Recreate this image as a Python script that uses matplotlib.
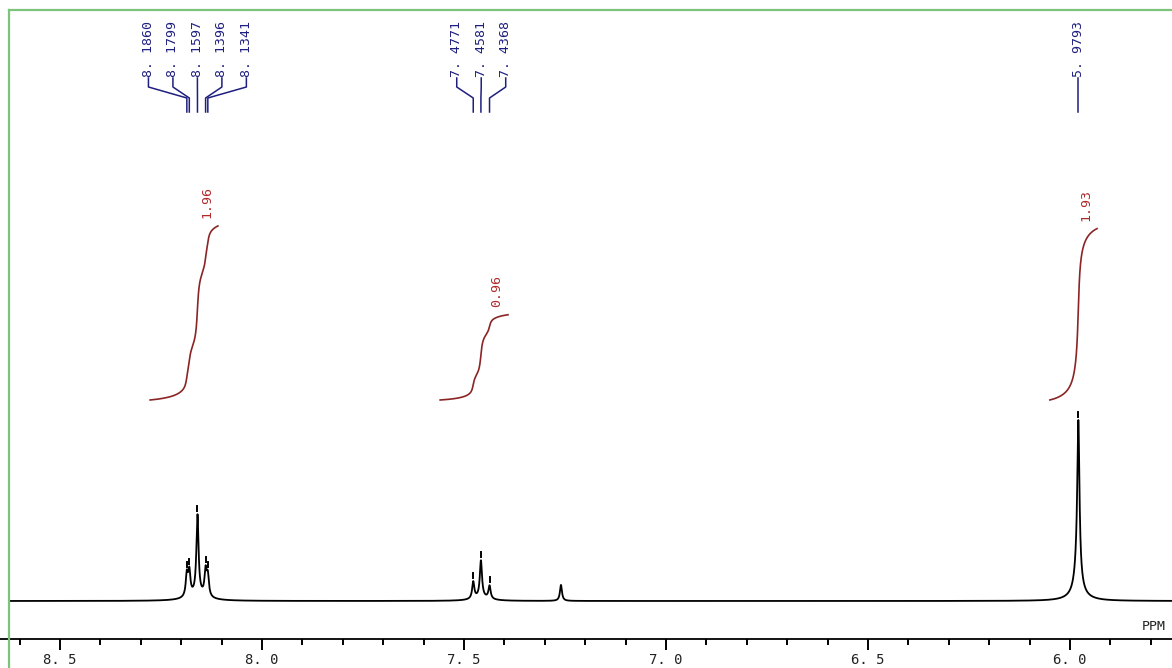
import numpy as np
import matplotlib
matplotlib.use("Agg")
import matplotlib.pyplot as plt
from matplotlib.ticker import MultipleLocator, FuncFormatter
from matplotlib.lines import Line2D

# picked peaks (ppm) and their heights above the baseline
pick_ppm = [8.1860, 8.1799, 8.1597, 8.1396, 8.1341, 7.4771, 7.4581, 7.4368, 5.9793]
pick_height = [22, 24, 80, 25, 20, 17, 37, 13, 150]
pick_groups = [[0, 1, 2, 3, 4], [5, 6, 7], [8]]

# residual solvent line (not picked)
solvent_ppm = [7.26]
solvent_height = [16]

# broad feet under each peak / multiplet
base_ppm = [8.16, 7.457, 5.979, 5.981]
base_height = [5, 3, 4, 28]
base_width = [0.03, 0.025, 0.03, 0.009]

# integrals
integral_start = [8.277, 7.559, 6.050]
integral_end = [8.109, 7.391, 5.933]
integral_value = [1.96, 0.96, 1.93]

BLUE = '#1f1f80'
RED = '#b02a2a'
DARKRED = '#8b2525'
MONO = 'DejaVu Sans Mono'


def lorentz(x, p, h, w):
    return h / (1 + ((x - p) / w) ** 2)


def main():
    fig = plt.figure(figsize=(11.72, 6.68), dpi=100)
    ax = fig.add_axes([0, 0, 1, 1])
    ax.set_xlim(8.6485, 5.7475)
    ax.set_ylim(-29, 639)

    x = np.linspace(8.625, 5.70, 12000)
    y = np.zeros_like(x)
    for p, h in zip(pick_ppm, pick_height):
        y += lorentz(x, p, h, 0.0032)
    for p, h in zip(solvent_ppm, solvent_height):
        y += lorentz(x, p, h, 0.003)
    for p, h, w in zip(base_ppm, base_height, base_width):
        y += lorentz(x, p, h, w)

    baseline = 38
    ax.plot(x, baseline + y, color='black', lw=1.3)

    # peak pick marks
    for p in pick_ppm:
        top = baseline + y[np.argmin(np.abs(x - p))]
        ax.plot([p, p], [top + 3, top + 8], color='black', lw=1.4)

    # peak labels with leader lines
    step = 0.0606
    for grp in pick_groups:
        centre = np.mean([pick_ppm[i] for i in grp])
        n = len(grp)
        for k, i in enumerate(grp):
            lx = centre + (n - 1) / 2 * step - k * step
            p = pick_ppm[i]
            ax.text(lx, 562, f"{p:.4f}".replace('.', '. '), rotation=90,
                    ha='center', va='bottom', fontsize=9.5, family=MONO,
                    color=BLUE)
            ax.plot([lx, lx, p, p], [561, 552, 541, 527], color=BLUE, lw=1.1)

    # integral curves
    scale = 88.8
    ibase = 239
    for s, e, v in zip(integral_start, integral_end, integral_value):
        m = (x <= s) & (x >= e)
        cum = np.cumsum(y[m])
        cum = cum / cum[-1]
        ax.plot(x[m], ibase + cum * v * scale, color=DARKRED, lw=1.2)
        ax.text(e + 0.028, ibase + v * scale + 8, f"{v:.2f}", rotation=90,
                ha='center', va='bottom', fontsize=9.5, family=MONO,
                color=RED)

    # ppm axis
    for sp in ['top', 'left', 'right']:
        ax.spines[sp].set_visible(False)
    ax.spines['bottom'].set_position(('data', 0))
    ax.spines['bottom'].set_linewidth(1.3)
    ax.xaxis.set_major_locator(MultipleLocator(0.5))
    ax.xaxis.set_minor_locator(MultipleLocator(0.1))
    ax.xaxis.set_major_formatter(FuncFormatter(lambda v, _: f"{v:.1f}".replace('.', '. ')))
    ax.tick_params(axis='x', which='major', direction='out', length=8, width=1.4,
                   pad=2, labelsize=10, labelcolor='#222222')
    ax.tick_params(axis='x', which='minor', direction='out', length=4, width=1.4)
    for lab in ax.get_xticklabels():
        lab.set_family(MONO)
    ax.set_yticks([])
    ax.text(5.822, 6, "PPM", ha='left', va='bottom', fontsize=9.5, family=MONO,
            color='#222222')

    # green frame
    fig.add_artist(Line2D([9 / 1172, 9 / 1172], [0, 1 - 10 / 668],
                          transform=fig.transFigure, color='#7cc47c', lw=1.6))
    fig.add_artist(Line2D([9 / 1172, 1], [1 - 10 / 668, 1 - 10 / 668],
                          transform=fig.transFigure, color='#7cc47c', lw=1.6))

    fig.savefig("out.png", dpi=100)


if __name__ == "__main__":
    main()
